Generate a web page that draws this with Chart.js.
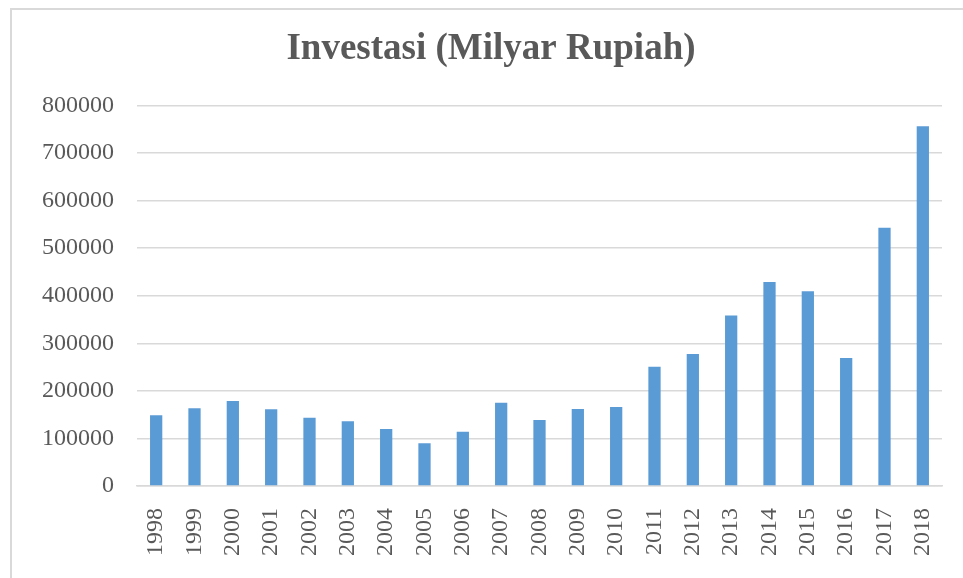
<!DOCTYPE html>
<html>
<head>
<meta charset="utf-8">
<script src="https://cdn.jsdelivr.net/npm/chart.js@4/dist/chart.umd.min.js"></script>
<style>
  html, body { margin: 0; padding: 0; background: #fff; overflow: hidden; }
  #frame { position: absolute; left: 10px; top: 8px; width: 1000px; height: 620px;
           border-left: 2px solid #d9d9d9; border-top: 2px solid #d9d9d9; }
  #wrap { position: absolute; left: 0; top: 0; width: 963px; height: 578px; }
</style>
</head>
<body>
<div id="frame"></div>
<div id="wrap"><canvas id="investChart"></canvas></div>
<script>
// data
const years = ["1998","1999","2000","2001","2002","2003","2004","2005","2006","2007","2008",
               "2009","2010","2011","2012","2013","2014","2015","2016","2017","2018"];
const investasi = [148600,163400,178800,161300,143500,135900,119600,89900,113900,175200,138600,
                   161900,166100,250800,277700,358500,428600,409500,269200,542900,756000];
const yMax = 800000;
const yStep = 100000;

const textColor = "#595959";
const serif = "'Liberation Serif', 'Times New Roman', serif";

const investChart = new Chart(
document.getElementById("investChart"),
{
    type:"bar",
    data:{
        labels:years,
        datasets:[{
            label:"Investasi",
            data:investasi,
            backgroundColor:"#5b9bd5",
            borderWidth:0,
            barPercentage:0.32,
            categoryPercentage:1.0
        }]
    },
    options:{
        responsive:true,
        maintainAspectRatio:false,
        animation:false,
        layout:{padding:{left:19, right:0, top:8, bottom:0}},
        plugins:{
            legend:{display:false},
            tooltip:{enabled:false},
            title:{
                display:true,
                text:"Investasi (Milyar Rupiah)",
                color:textColor,
                font:{family:serif, size:37, weight:"bold"},
                padding:{top:19, bottom:34}
            }
        },
        scales:{
            x:{
                grid:{display:false, drawTicks:false},
                border:{display:true, color:"#d9d9d9", width:1.5},
                ticks:{
                    color:textColor,
                    font:{family:serif, size:24},
                    maxRotation:90,
                    minRotation:90,
                    padding:22,
                    autoSkip:false
                },
                // keep a fixed right margin for the plot, title stays centred on the page
                afterFit:scale => { scale.paddingRight = 21; }
            },
            y:{
                min:0,
                max:yMax,
                grid:{color:"#d9d9d9", lineWidth:1.5, drawTicks:false},
                border:{display:false},
                ticks:{
                    stepSize:yStep,
                    color:textColor,
                    font:{family:serif, size:24},
                    padding:23,
                    callback:v => String(v)
                }
            }
        }
    }
});
</script>
</body>
</html>
